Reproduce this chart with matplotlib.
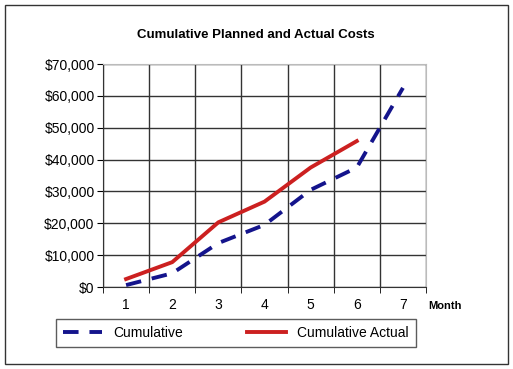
import matplotlib.pyplot as plt
from matplotlib.patches import Rectangle

plt.rcParams['font.family'] = ['Liberation Sans', 'DejaVu Sans']

months = [1, 2, 3, 4, 5, 6, 7]
planned = [600, 4300, 13800, 19500, 30500, 37500, 62500]
actual = [2500, 7800, 20300, 26800, 37500, 45800]
y_ticks = [0, 10000, 20000, 30000, 40000, 50000, 60000, 70000]

fig = plt.figure(figsize=(5.13, 3.69), dpi=100)
ax = fig.add_axes([103 / 513, 1 - 287 / 369, 323 / 513, 223 / 369])

ax.plot(months, planned, color='#14148c', lw=2.8, linestyle=(0, (4, 2.8)),
        label='Cumulative', solid_capstyle='butt')
ax.plot(months[:len(actual)], actual, color='#cc2020', lw=2.8,
        label='Cumulative Actual')

ax.set_xlim(0.5, 7.5)
ax.set_ylim(0, 70000)
ax.set_yticks(y_ticks)
ax.set_yticklabels(['${:,}'.format(v) for v in y_ticks], fontsize=10)
ax.set_xticks(months)
ax.set_xticklabels([str(m) for m in months], fontsize=10)
ax.set_xticks([m + 0.5 for m in [0] + months], minor=True)
ax.tick_params(axis='x', which='major', length=0, pad=8)
ax.tick_params(axis='x', which='minor', length=4, direction='out')
ax.tick_params(axis='y', length=4, direction='out', pad=2)
ax.grid(True, which='minor', axis='x', color='#333333', lw=1)
ax.grid(True, which='major', axis='y', color='#333333', lw=1)
for s in ax.spines.values():
    s.set_color('#333333')
ax.spines['top'].set_color('#bbbbbb')
ax.spines['right'].set_color('#bbbbbb')

fig.text(256 / 513, 1 - 35 / 369, 'Cumulative Planned and Actual Costs',
         ha='center', va='center', fontsize=9.5, fontweight='bold')
fig.text(445 / 513, 1 - 306 / 369, 'Month', ha='center', va='center',
         fontsize=8, fontweight='bold')

leg = fig.legend(loc='center', bbox_to_anchor=(236 / 513, 1 - 333 / 369),
                 ncol=2, fontsize=10, frameon=True, fancybox=False,
                 handlelength=2.8, columnspacing=4.6, borderpad=0.5,
                 borderaxespad=0)
leg.get_frame().set_edgecolor('#333333')
leg.get_frame().set_linewidth(1)

fig.patches.append(Rectangle((5 / 513, 5 / 369), 503 / 513, 359 / 369,
                             transform=fig.transFigure, fill=False,
                             edgecolor='#333333', lw=1))

fig.savefig('out.png', dpi=100)
